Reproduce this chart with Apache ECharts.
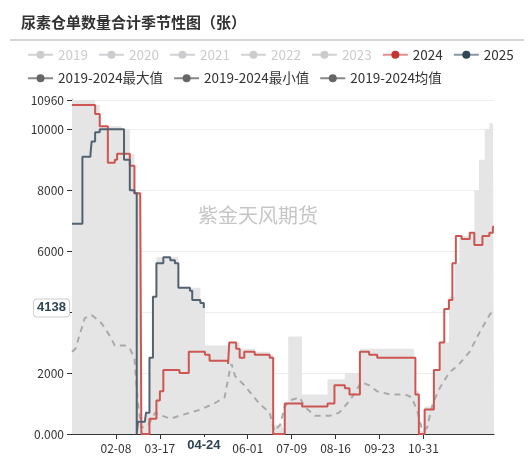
<!DOCTYPE html><html><head><meta charset="utf-8">
<script src="https://cdn.jsdelivr.net/npm/echarts@6/dist/echarts.min.js"></script>
<style>body{margin:0}#c{width:531px;height:460px}</style></head><body><div id="c"></div><script>
const s2024=[[0,10800],[20,10500],[24,10100],[31,8900],[37,9000],[39,9200],[50,8800],[54,7900],[59,7900],[60,0],[67,500],[73,1100],[76,1400],[79,2100],[93,2000],[101,2700],[115,2600],[119,2400],[135,2300],[136,3000],[142,2800],[145,2500],[149,2700],[158,2600],[171,2500],[174,0],[184,1000],[199,900],[221,1000],[227,1600],[236,1500],[240,1300],[249,2700],[257,2600],[264,2500],[297,1300],[300,0],[305,800],[313,2100],[318,3000],[322,4100],[326,4400],[329,5600],[332,6500],[337,6400],[344,6600],[348,6200],[355,6500],[361,6600],[364,6800],[365,6800]];
const s2025=[[0,6900],[7,6900],[9,9100],[16,9200],[17,9600],[20,9900],[24,10000],[43,10000],[45,9000],[50,8000],[54,7900],[55,7900],[56,0],[57,400],[63,400],[64,700],[67,2500],[70,4500],[73,5600],[79,5800],[85,5700],[89,5600],[92,4800],[102,4700],[104,4400],[111,4300],[114,4138]];
const sMax=[[0,10960],[17,10960],[20,10800],[24,10100],[43,10000],[50,9200],[54,7900],[59,7900],[60,400],[64,700],[67,2500],[70,4500],[73,5800],[92,5800],[93,4800],[111,4300],[115,2900],[135,2900],[136,3000],[142,3000],[145,2800],[158,2700],[171,2600],[174,300],[182,200],[184,1000],[187,3200],[197,3200],[199,1300],[218,1300],[221,1800],[236,2000],[247,2000],[249,2800],[296,2800],[297,1400],[300,100],[305,900],[313,2100],[318,3000],[326,4500],[331,5600],[335,6500],[344,6600],[348,8000],[352,9000],[357,10000],[361,10200],[364,10900],[365,10900]];
const sMin=[[0,0],[365,0]];
const sAvg=[[0,2700],[3,2800],[11,3800],[17,3900],[24,3700],[28,3500],[33,3200],[37,2900],[46,2900],[50,2800],[54,2500],[57,1000],[60,200],[66,300],[72,700],[78,600],[85,500],[93,600],[102,700],[111,800],[123,1000],[132,1200],[136,2000],[138,2300],[141,1900],[149,1600],[162,1000],[171,700],[175,100],[180,300],[184,900],[188,1100],[197,1200],[201,900],[210,600],[223,600],[231,700],[238,1000],[244,1300],[250,1700],[257,1600],[264,1400],[275,1300],[288,1300],[294,1200],[299,700],[303,100],[307,200],[312,1000],[318,1500],[326,2000],[335,2300],[344,2700],[352,3300],[361,3900],[365,4100]];
const legendNames=['2019','2020','2021','2022','2023','2024','2025','2019-2024最大值','2019-2024最小值','2019-2024均值'];
const cats=[];{const d=new Date(Date.UTC(2024,0,1));for(let i=0;i<366;i++){cats.push(String(d.getUTCMonth()+1).padStart(2,'0')+'-'+String(d.getUTCDate()).padStart(2,'0'));d.setUTCDate(d.getUTCDate()+1);}}
const conv=a=>a.map(p=>[cats[p[0]],p[1]]);
const ch=echarts.init(document.getElementById('c'));
const font='"Noto Sans CJK SC", sans-serif';
const base={type:'line',symbol:'circle',showSymbol:false,symbolSize:8};
const series=[];
['2019','2020','2021','2022','2023'].forEach(n=>series.push({...base,name:n,data:[],color:'#ccc'}));
series.push({...base,name:'2019-2024最大值',step:'end',data:conv(sMax),color:'#666',lineStyle:{width:0},areaStyle:{color:'#e5e5e5',opacity:1},z:1});
series.push({...base,name:'2019-2024最小值',data:conv(sMin),color:'#666',lineStyle:{width:0},areaStyle:{color:'#fff',opacity:1},z:1});
series.push({...base,name:'2019-2024均值',data:conv(sAvg),color:'#666',lineStyle:{color:'#aaa',width:2,type:[6,5]},z:2});
series.push({...base,name:'2024',step:'end',data:conv(s2024),color:'#c23531',lineStyle:{color:'#cd5552',width:2},z:3});
series.push({...base,name:'2025',step:'end',data:conv(s2025),color:'#2f4554',lineStyle:{color:'#526270',width:2},z:4});
const legendData=legendNames.map((n,i)=>{
  const c=i<5?'#ccc':(n==='2024'?'#c23531':(n==='2025'?'#2f4554':'#666'));
  const lc=i<5?'#ccc':(n==='2024'?'#e0908e':(n==='2025'?'#8a97a1':'#888'));
  return {name:n,itemStyle:{color:c},lineStyle:{color:lc,width:2,type:'solid',opacity:1}};
});
ch.setOption({
 animation:false,
 title:{text:'尿素仓单数量合计季节性图（张）',left:16,top:10,textStyle:{fontFamily:font,fontSize:15,fontWeight:'bold',color:'#333'}},
 graphic:[{type:'line',shape:{x1:10,y1:40,x2:524,y2:40},style:{stroke:'#aaa',lineWidth:1}},
  {type:'text',left:198,top:205,style:{text:'紫金天风期货',fontSize:20,fontFamily:font,fill:'rgba(150,150,150,0.55)'}}],
 legend:{data:legendData,left:22,top:43,width:505,itemGap:10,itemWidth:25,itemHeight:10,textStyle:{fontSize:13.5,fontFamily:font,color:'#333'},inactiveColor:'#ccc',
  selected:{'2019':false,'2020':false,'2021':false,'2022':false,'2023':false}},
 grid:{left:72,right:37,top:100,bottom:26},
 xAxis:{type:'category',data:cats,boundaryGap:false,axisTick:{interval:(i)=>i>0&&i%38===0&&i<=304},
  axisLabel:{interval:(i)=>i>0&&i%38===0&&i<=304,fontSize:12,color:'#333',fontFamily:font},axisLine:{lineStyle:{color:'#333'}},
  axisPointer:{show:true,value:'04-24',status:'show',lineStyle:{opacity:0},label:{show:true,backgroundColor:'#fff',color:'#2f4554',fontWeight:'bold',fontSize:13,padding:[2,2]}}},
 yAxis:{type:'value',min:0,max:10960,interval:2000,axisLine:{show:true,lineStyle:{color:'#333'}},axisTick:{show:true},
  splitLine:{lineStyle:{color:'#eee'}},axisLabel:{fontSize:12,color:'#333',fontFamily:font,formatter:v=>v===0?'0.000':String(v)},
  axisPointer:{show:true,value:4138,status:'show',lineStyle:{opacity:0},label:{show:true,backgroundColor:'#fff',borderColor:'#ccc',borderWidth:1,color:'#2f4554',fontWeight:'bold',fontSize:13,padding:[2,3],formatter:'4138'}}},
 series
});
</script></body></html>
